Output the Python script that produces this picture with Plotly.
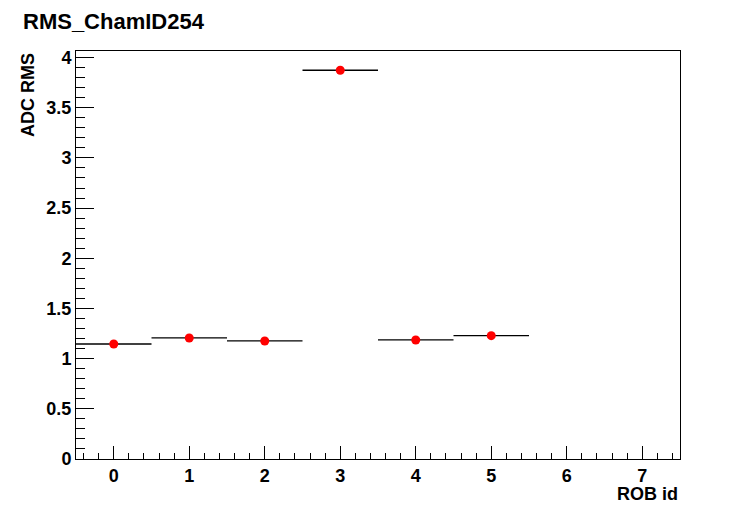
import plotly.graph_objects as go

rob_id = [0, 1, 2, 3, 4, 5]
adc_rms = [1.146, 1.206, 1.176, 3.873, 1.186, 1.229]
half_width = [0.5] * len(rob_id)
x_tick_vals = [0, 1, 2, 3, 4, 5, 6, 7]
x_tick_text = ["0", "1", "2", "3", "4", "5", "6", "7"]
y_tick_vals = [0, 0.5, 1, 1.5, 2, 2.5, 3, 3.5, 4]
y_tick_text = ["0", "0.5", "1", "1.5", "2", "2.5", "3", "3.5", "4"]

FONT = "Liberation Sans, Arial, Helvetica, sans-serif"

# The page body has an 8px default margin; compensate so the frame lands where the reference has it.
OFF = 8
W, H = 756 - OFF, 511 - OFF
ML, MR, MT, MB = 76 - OFF, 76, 51 - OFF, 52

fig = go.Figure()
fig.add_trace(go.Scatter(
    x=rob_id, y=adc_rms, mode="markers",
    marker=dict(color="#ff0000", size=9, symbol="circle"),
    error_x=dict(type="data", array=half_width, color="black", thickness=1.3, width=0),
    showlegend=False,
))

fig.update_layout(
    width=W, height=H,
    paper_bgcolor="white", plot_bgcolor="white",
    margin=dict(l=ML, r=MR, t=MT, b=MB),
    font=dict(family=FONT, color="black", size=17),
    xaxis=dict(
        range=[-0.5, 7.5], tickmode="array", tickvals=x_tick_vals,
        ticktext=["<b>%s</b>" % t for t in x_tick_text],
        ticks="inside", ticklen=13, tickwidth=1, tickcolor="black",
        showline=True, linecolor="black", linewidth=1, mirror=True,
        showgrid=False, zeroline=False,
        tickfont=dict(family=FONT, size=18),
        minor=dict(ticks="inside", ticklen=6, dtick=0.2, tick0=0, tickcolor="black", showgrid=False),
    ),
    yaxis=dict(
        range=[0, 4.065], tickmode="array", tickvals=y_tick_vals,
        ticktext=["<b>%s</b>" % t for t in y_tick_text],
        ticks="inside", ticklen=18, tickwidth=1, tickcolor="black",
        showline=True, linecolor="black", linewidth=1, mirror=True,
        showgrid=False, zeroline=False,
        tickfont=dict(family=FONT, size=18),
        minor=dict(ticks="inside", ticklen=9, dtick=0.1, tick0=0, tickcolor="black", showgrid=False),
    ),
)

pw = W - ML - MR
ph = H - MT - MB


def px_x(x):
    return (x - OFF - ML) / pw


def px_y(y):
    return (H - MB - (y - OFF)) / ph


fig.add_annotation(text="<b>RMS_ChamID254</b>", x=px_x(22), y=px_y(OFF), xref="paper", yref="paper",
                   xanchor="left", yanchor="top", showarrow=False, borderpad=0,
                   font=dict(size=22, family=FONT))
fig.add_annotation(text="<b>ROB id</b>", x=1.0, y=px_y(494), xref="paper", yref="paper",
                   xanchor="right", yanchor="middle", showarrow=False, font=dict(size=18, family=FONT))
fig.add_annotation(text="<b>ADC RMS</b>", x=px_x(28), y=1.0, xref="paper", yref="paper",
                   xanchor="center", yanchor="top", textangle=-90, showarrow=False,
                   font=dict(size=18, family=FONT))

fig.write_html("out.html")
